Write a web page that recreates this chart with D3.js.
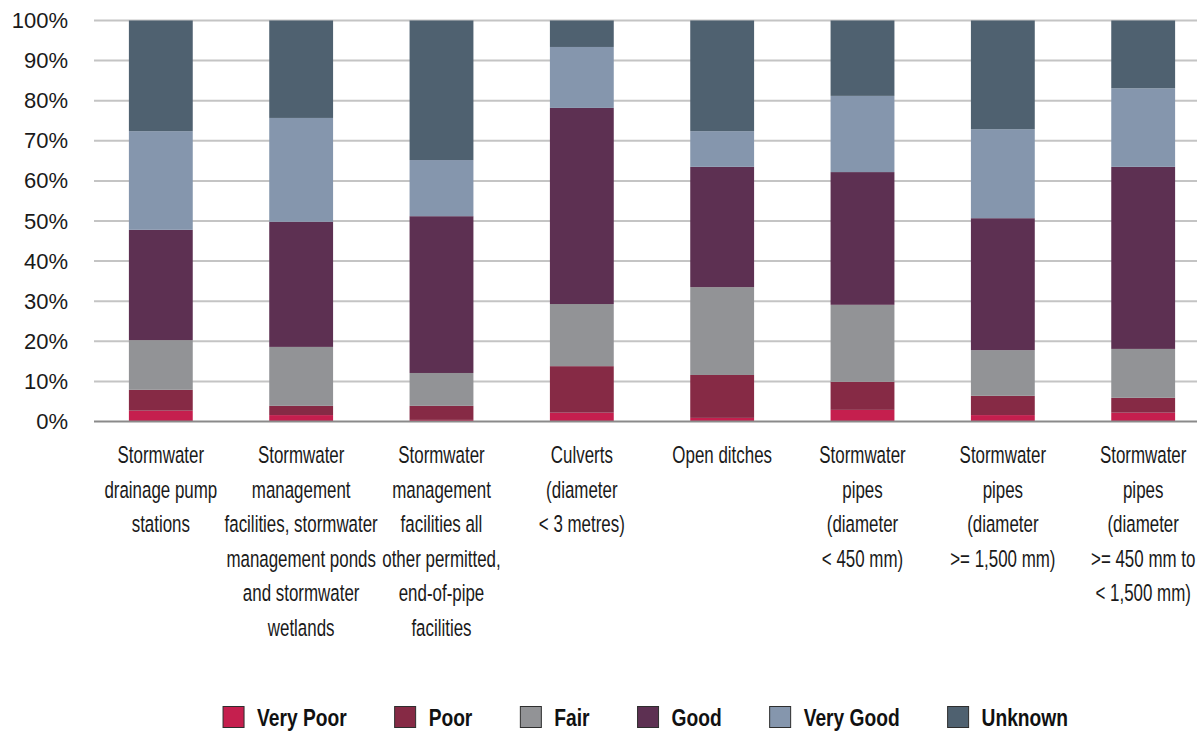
<!DOCTYPE html>
<html>
<head>
<meta charset="utf-8">
<script src="https://cdn.jsdelivr.net/npm/d3@7"></script>
<style>
  html, body { margin: 0; padding: 0; background: #fff; }
  svg text { font-family: "Liberation Sans", Arial, sans-serif; }
</style>
</head>
<body>
<svg id="chart" width="1199" height="732"></svg>
<script>
// Asset types (line breaks as printed under each bar)
const categories = [
  "Stormwater\ndrainage pump\nstations",
  "Stormwater\nmanagement\nfacilities, stormwater\nmanagement ponds\nand stormwater\nwetlands",
  "Stormwater\nmanagement\nfacilities all\nother permitted,\nend-of-pipe\nfacilities",
  "Culverts\n(diameter\n< 3 metres)",
  "Open ditches",
  "Stormwater\npipes\n(diameter\n< 450 mm)",
  "Stormwater\npipes\n(diameter\n>= 1,500 mm)",
  "Stormwater\npipes\n(diameter\n>= 450 mm to\n< 1,500 mm)"
];

// Condition ratings, bottom to top of each stack
const conditions = ["Very Poor", "Poor", "Fair", "Good", "Very Good", "Unknown"];

// Share of each asset type per condition (%)
const veryPoor = [2.7, 1.6, 0.4, 2.2, 0.9, 2.9, 1.6, 2.2];
const poor     = [5.2, 2.3, 3.5, 11.6, 10.7, 7.0, 4.8, 3.7];
const fair     = [12.4, 14.7, 8.2, 15.5, 21.9, 19.2, 11.4, 12.2];
const good     = [27.5, 31.2, 39.1, 48.9, 30.0, 33.1, 32.9, 45.4];
const veryGood = [24.6, 25.9, 14.0, 15.2, 8.9, 19.0, 22.2, 19.6];
const unknown  = [27.6, 24.3, 34.8, 6.6, 27.6, 18.8, 27.1, 16.9];

const yTicks = [0, 10, 20, 30, 40, 50, 60, 70, 80, 90, 100];

const colors = ["#c51f4e", "#862a45", "#929396", "#5d3052", "#8596ad", "#4f6170"];

const series = [veryPoor, poor, fair, good, veryGood, unknown];
const rows = categories.map((c, i) => {
  const r = { category: c };
  conditions.forEach((k, j) => { r[k] = series[j][i]; });
  return r;
});

const svg = d3.select("#chart");
const plotLeft = 94, plotRight = 1197, plotTop = 20.5, plotBottom = 421.5;
const condense = 0.72; // horizontal squeeze giving a condensed typeface look

const x = d3.scaleBand().domain(categories).range([91, 1213]).paddingInner(0.545).paddingOuter(0.27);
const y = d3.scaleLinear().domain([0, 100]).range([plotBottom, plotTop]);
const color = d3.scaleOrdinal().domain(conditions).range(colors);

// Horizontal gridlines
svg.append("g")
  .selectAll("line")
  .data(yTicks.filter(t => t > 0))
  .join("line")
  .attr("x1", plotLeft).attr("x2", plotRight)
  .attr("y1", d => y(d)).attr("y2", d => y(d))
  .attr("stroke", "#c4c4c4").attr("stroke-width", 2);

// Y axis labels
const yAxis = d3.axisLeft(y).tickValues(yTicks).tickFormat(d => d + "%").tickSize(0).tickPadding(0);
const yg = svg.append("g").attr("transform", "translate(68,0)").call(yAxis);
yg.select(".domain").remove();
yg.selectAll("text").attr("font-size", 22).attr("fill", "#1a1a1a")
  .style("font-family", "'Liberation Sans', Arial, sans-serif");

// Stacked bars
const stacked = d3.stack().keys(conditions)(rows);
svg.append("g")
  .selectAll("g")
  .data(stacked)
  .join("g")
  .attr("fill", d => color(d.key))
  .selectAll("rect")
  .data(d => d)
  .join("rect")
  .attr("x", d => x(d.data.category))
  .attr("width", x.bandwidth())
  .attr("y", d => y(d[1]))
  .attr("height", d => y(d[0]) - y(d[1]));

// Baseline
svg.append("line")
  .attr("x1", plotLeft).attr("x2", plotRight)
  .attr("y1", y(0)).attr("y2", y(0))
  .attr("stroke", "#8a8a8a").attr("stroke-width", 2);

// Category labels
const lineH = 34.6;
svg.append("g")
  .selectAll("text")
  .data(categories)
  .join("text")
  .attr("text-anchor", "middle")
  .attr("font-size", 23.5)
  .attr("fill", "#1a1a1a")
  .attr("transform", d => `translate(${x(d) + x.bandwidth() / 2},463) scale(${condense},1)`)
  .selectAll("tspan")
  .data(d => d.split("\n"))
  .join("tspan")
  .attr("x", 0)
  .attr("y", (d, i) => i * lineH)
  .text(d => d);

// Legend
const legend = svg.append("g").attr("transform", "translate(0,717)");
const items = legend.selectAll("g").data(conditions).join("g");
items.append("rect")
  .attr("x", 0).attr("y", -10.5).attr("width", 21).attr("height", 21)
  .attr("fill", d => color(d))
  .attr("stroke", "#2e2e2e").attr("stroke-width", 1);
const legendScale = 0.8;
items.append("text")
  .attr("transform", `translate(34,8.5) scale(${legendScale},1)`)
  .attr("font-size", 24).attr("font-weight", "bold").attr("fill", "#111")
  .text(d => d);
const widths = [];
items.each(function () {
  widths.push(34 + this.querySelector("text").getComputedTextLength() * legendScale);
});
const gap = 48;
const total = d3.sum(widths) + gap * (widths.length - 1);
let offset = (plotLeft + plotRight) / 2 - total / 2;
items.attr("transform", (d, i) => {
  const tx = offset;
  offset += widths[i] + gap;
  return `translate(${tx},0)`;
});
</script>
</body>
</html>
